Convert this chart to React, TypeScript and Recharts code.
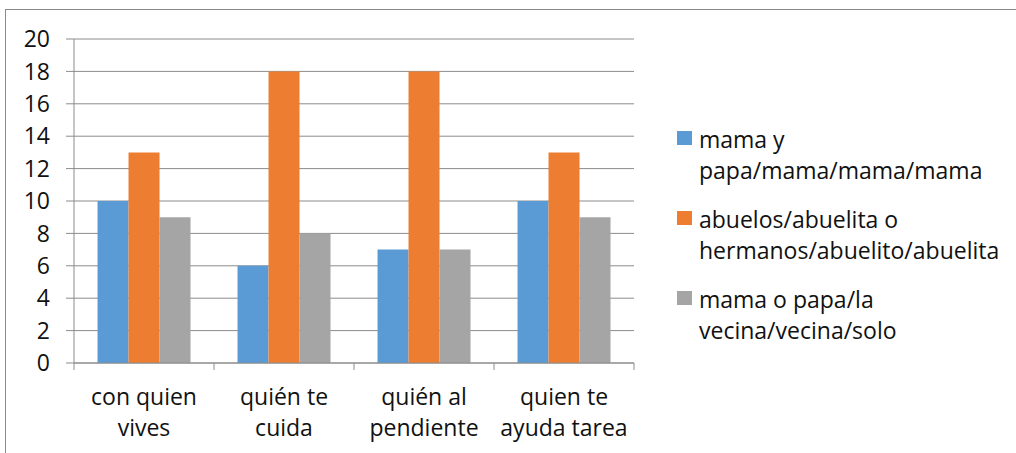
import React from 'react';
import { BarChart, Bar, XAxis, YAxis, CartesianGrid, Legend } from 'recharts';

const categories = ['con quien\nvives', 'quién te\ncuida', 'quién al\npendiente', 'quien te\nayuda tarea'];
const seriesNames = [
  'mama y\npapa/mama/mama/mama',
  'abuelos/abuelita o\nhermanos/abuelito/abuelita',
  'mama o papa/la\nvecina/vecina/solo',
];
const series1 = [10, 6, 7, 10];
const series2 = [13, 18, 18, 13];
const series3 = [9, 8, 7, 9];
const yTicks = [0, 2, 4, 6, 8, 10, 12, 14, 16, 18, 20];
const colors = ['#5B9BD5', '#ED7D31', '#A5A5A5'];

const data = categories.map((c, i) => ({ cat: c, s1: series1[i], s2: series2[i], s3: series3[i] }));

const W = 1016;
const H = 453;
const PLOT_LEFT = 74;
const PLOT_RIGHT = 634;
const PLOT_TOP = 39;
const PLOT_BOTTOM = 363;
const X_AXIS_H = 60;
const BAND = (PLOT_RIGHT - PLOT_LEFT) / categories.length;
const FONT = '"Open Sans", "Noto Sans", sans-serif';
const FS = 23;
const GRID = '#8c8c8c';
const TEXT = '#111';

function XTick(props: any) {
  const { x, payload } = props;
  const index = props.index ?? payload?.index ?? 0;
  const lines = String(payload.value).split('\n');
  const y0 = PLOT_BOTTOM;
  return (
    <g>
      <line x1={x - BAND / 2} x2={x - BAND / 2} y1={y0} y2={y0 + 7} stroke={GRID} strokeWidth={1} />
      {index === categories.length - 1 && (
        <line x1={x + BAND / 2} x2={x + BAND / 2} y1={y0} y2={y0 + 7} stroke={GRID} strokeWidth={1} />
      )}
      <text textAnchor="middle" fontFamily={FONT} fontSize={FS} fill={TEXT}>
        {lines.map((l, i) => (
          <tspan key={i} x={x} y={y0 + 42 + i * 31}>
            {l}
          </tspan>
        ))}
      </text>
    </g>
  );
}

function LegendContent(props: any) {
  const payload = props.payload || [];
  return (
    <div style={{ fontFamily: FONT, fontSize: FS, color: TEXT, lineHeight: '31px' }}>
      {payload.map((p: any, i: number) => (
        <div key={i} style={{ position: 'relative', paddingLeft: 22, marginBottom: 18 }}>
          <span
            style={{
              position: 'absolute',
              left: 0,
              top: 7,
              width: 15,
              height: 14,
              background: p.color,
            }}
          />
          {String(p.value)
            .split('\n')
            .map((l: string, j: number) => (
              <div key={j} style={{ whiteSpace: 'nowrap' }}>
                {l}
              </div>
            ))}
        </div>
      ))}
    </div>
  );
}

export default function App() {
  return (
    <div style={{ position: 'absolute', left: 0, top: 0, width: W, height: H, overflow: 'hidden', background: '#fff' }}>
      <div
        style={{
          position: 'absolute',
          left: 5,
          top: 9,
          width: 1100,
          height: 600,
          border: '1px solid #8a8a8a',
          boxSizing: 'border-box',
        }}
      />
      <div style={{ position: 'absolute', left: 0, top: 0 }}>
        <BarChart
          width={W}
          height={H}
          data={data}
          margin={{ top: PLOT_TOP, right: W - PLOT_RIGHT, bottom: H - PLOT_BOTTOM - X_AXIS_H, left: 0 }}
          barCategoryGap="16.8%"
          barGap={0}
        >
          <CartesianGrid vertical={false} stroke={GRID} strokeWidth={1} />
          <XAxis
            dataKey="cat"
            height={X_AXIS_H}
            axisLine={{ stroke: GRID }}
            tickLine={false}
            tick={<XTick />}
            interval={0}
          />
          <YAxis
            width={PLOT_LEFT}
            domain={[0, 20]}
            ticks={yTicks}
            interval={0}
            axisLine={{ stroke: GRID }}
            tickLine={{ stroke: GRID }}
            tickSize={8}
            tickMargin={16}
            tick={{ fontFamily: FONT, fontSize: FS, fill: TEXT }}
          />
          <Legend
            layout="vertical"
            align="center"
            verticalAlign="middle"
            itemSorter="dataKey"
            content={<LegendContent />}
            wrapperStyle={{ left: 677, top: 124, width: 335, height: 260 }}
          />
          <Bar dataKey="s1" name={seriesNames[0]} fill={colors[0]} isAnimationActive={false} />
          <Bar dataKey="s2" name={seriesNames[1]} fill={colors[1]} isAnimationActive={false} />
          <Bar dataKey="s3" name={seriesNames[2]} fill={colors[2]} isAnimationActive={false} />
        </BarChart>
      </div>
    </div>
  );
}
